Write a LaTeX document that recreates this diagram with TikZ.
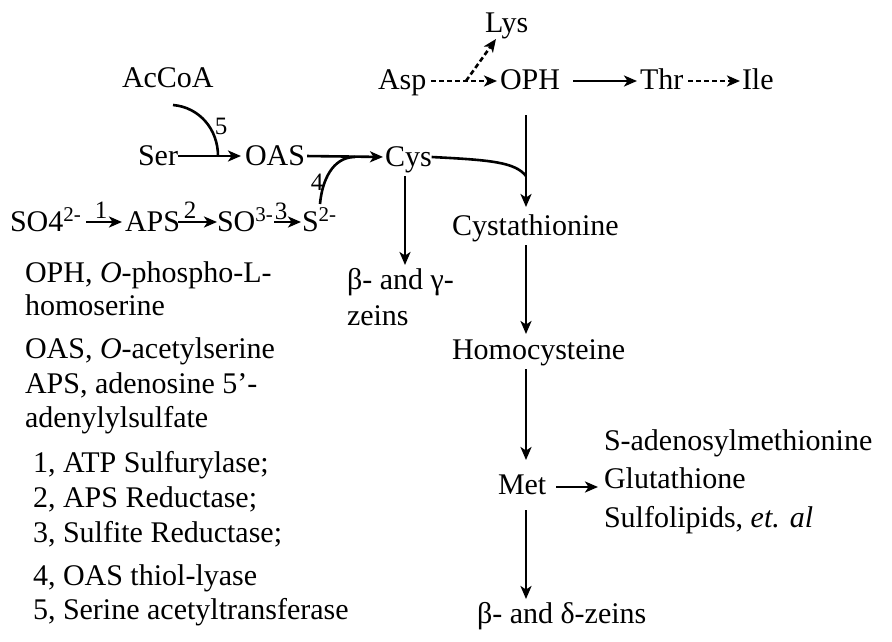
\documentclass[tikz,border=0pt]{standalone}
\usepackage{fontspec}
\setmainfont{Liberation Serif}
\usetikzlibrary{arrows.meta}
\begin{document}
\begin{tikzpicture}[x=1pt,y=-1pt,
  every node/.style={inner sep=0pt, outer sep=0pt, text height=24pt, text depth=6pt, font=\fontsize{30}{33}\selectfont},
  lbl/.style={font=\fontsize{25}{28}\selectfont, anchor=base},
  txt/.style={anchor=base west},
  ln/.style={line width=2.6pt},
  arr/.style={line width=2.6pt, -{Stealth[length=13pt,width=11pt,inset=3.5pt]}},
  dsh/.style={arr, dash pattern=on 5pt off 3pt},
]
\useasboundingbox (0,0) rectangle (892,642);
% pathway nodes
\node[txt] (lys) at (485,33) {Lys};
\node[txt] (asp) at (378,90) {Asp};
\node[txt] (oph) at (500,90) {OPH};
\node[txt] (thr) at (640,90) {Thr};
\node[txt] (ile) at (742,90) {Ile};
\node[txt] (accoa) at (122,88) {AcCoA};
\node[txt] (ser) at (138,165) {Ser};
\node[txt] (oas) at (245,165) {OAS};
\node[txt] (cys) at (385,166) {Cys};
\node[txt] (so4) at (10,231) {SO4\textsuperscript{2-}};
\node[txt] (aps) at (125,231) {APS};
\node[txt] (so3) at (217,231) {SO\textsuperscript{3-}};
\node[txt] (s2) at (302,231) {S\textsuperscript{2-}};
\node[txt] (cyst) at (452,235) {Cystathionine};
\node[txt] (bg) at (347,289) {β- and γ-};
\node[txt] (zeins) at (347,325) {zeins};
\node[txt] (homo) at (452,359) {Homocysteine};
\node[txt] (met) at (498,494) {Met};
\node[txt] (sam) at (604,450) {S-adenosylmethionine};
\node[txt] (glu) at (604,488) {Glutathione};
\node[txt] (sulf) at (604,527) {Sulfolipids, \textit{et. al}};
\node[txt] (bd) at (477,623) {β- and δ-zeins};
% enzyme labels
\node[lbl] (l1) at (101,218) {1};
\node[lbl] (l2) at (190,218) {2};
\node[lbl] (l3) at (281,219) {3};
\node[lbl] (l4) at (317,190) {4};
\node[lbl] (l5) at (221,135) {5};
% legend
\node[txt] (g1) at (25,282) {OPH, \textit{O}-phospho-L-};
\node[txt] (g2) at (25,315) {homoserine};
\node[txt] (g3) at (25,358) {OAS, \textit{O}-acetylserine};
\node[txt] (g4) at (25,393) {APS, adenosine 5’-};
\node[txt] (g5) at (25,427) {adenylylsulfate};
\node[txt] (g6) at (33,472) {1, ATP Sulfurylase;};
\node[txt] (g7) at (33,507) {2, APS Reductase;};
\node[txt] (g8) at (33,542) {3, Sulfite Reductase;};
\node[txt] (g9) at (33,585) {4, OAS thiol-lyase};
\node[txt] (g10) at (33,619) {5, Serine acetyltransferase};
% helper coordinates
\coordinate (ax) at (526,0);
\coordinate (cx) at (405,0);
\coordinate (br) at (466,81);
\coordinate (c5s) at (173,105);
\coordinate (j5) at (218,156);
\coordinate (c4s) at (320,204);
\coordinate (j4) at (355,157);
\coordinate (jc) at (526,176);
% sulfate assimilation
\draw[arr, shorten <=5pt, shorten >=3pt] (so4.east) -- (aps.west);
\draw[arr, shorten <=-2pt] (aps.east) -- (so3.west);
\draw[arr, shorten <=1pt, shorten >=1pt] (so3.east) -- (s2.west);
\draw[arr, shorten >=4pt] (ser.east) -- (oas.west);
\draw[arr, shorten <=2pt, shorten >=2pt] (oas.east) -- (cys.west);
\draw[ln] (c5s) to[out=-5,in=90] (j5);
\draw[ln] (c4s) to[out=85,in=180] (j4);
% aspartate family
\draw[dsh, shorten <=5pt, shorten >=3pt] (asp.east) -- (oph.west);
\draw[dsh] (br) -- (lys);
\draw[arr, shorten <=13pt, shorten >=3pt] (oph.east) -- (thr.west);
\draw[dsh, shorten <=5pt, shorten >=2pt] (thr.east) -- (ile.west);
% methionine branch
\draw[ln] (cys.east) .. controls (490,160) and (515,162) .. (jc);
\draw[arr, shorten <=19pt, shorten >=4pt] (oph.south -| ax) -- (cyst.north -| ax);
\draw[arr, shorten <=4pt, shorten >=1pt] (cyst.south -| ax) -- (homo.north -| ax);
\draw[arr, shorten <=4pt, shorten >=10pt] (homo.south -| ax) -- (met.north -| ax);
\draw[arr, shorten <=10pt] (met.south -| ax) -- (bd.north -| ax);
\draw[arr, shorten <=4pt] (cys.south -| cx) -- (bg.north -| cx);
\draw[arr, shorten <=10pt, shorten >=6pt] ([yshift=-2pt]met.east) -- ([yshift=-2pt]met.east -| glu.west);
\end{tikzpicture}
\end{document}
